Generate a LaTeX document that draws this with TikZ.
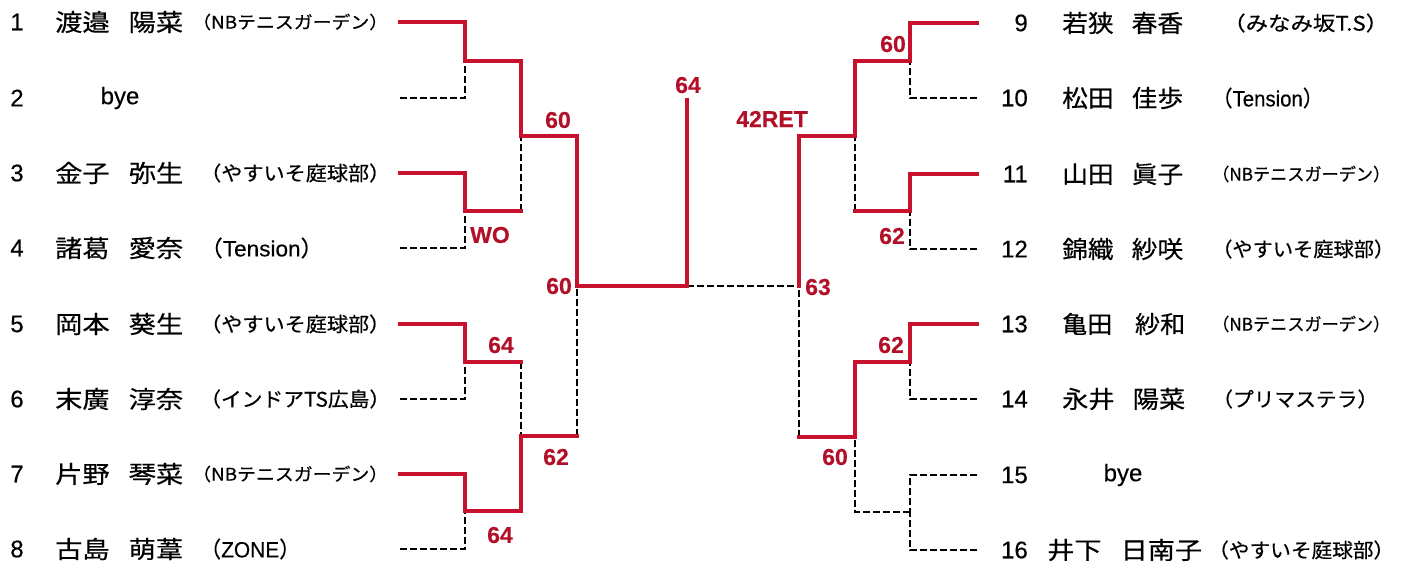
\documentclass[tikz,border=0pt]{standalone}
\usepackage{fontspec}
\usepackage{graphicx}
\setmainfont[FakeBold=0.35]{Liberation Sans}
\newfontfamily\jp[FakeBold=0.45]{Noto Sans CJK JP}
\definecolor{wincol}{RGB}{200,18,45}
\definecolor{scorecol}{RGB}{178,16,40}
\newcommand\fitw[2]{\resizebox{#1}{\height}{#2}}
\tikzset{
  winline/.style={draw=wincol, line width=3.8pt, line cap=rect, line join=miter},
  loseline/.style={draw=black, line width=2pt, dash pattern=on 7pt off 3pt},
  num/.style={font=\fontsize{24}{26}\selectfont, inner sep=0},
  nm/.style={font=\jp\fontsize{24}{26}\selectfont, inner sep=0, anchor=west},
  club/.style={font=\jp\fontsize{20}{22}\selectfont, inner sep=0, anchor=west},
  clubs/.style={font=\jp\fontsize{17.5}{19}\selectfont, inner sep=0, anchor=west},
  clubl/.style={font=\fontsize{22}{24}\selectfont, inner sep=0, anchor=west},
  byetxt/.style={font=\fontsize{24}{26}\selectfont, inner sep=0},
  score/.style={font=\bfseries\fontsize{23}{25}\selectfont, text=scorecol, inner sep=0}
}
\begin{document}
\begin{tikzpicture}[x=1pt,y=-1pt]
\useasboundingbox (0,0) rectangle (1412,564);
% ---------- coordinates: left half
\coordinate (s1) at (400,22);  \coordinate (s2) at (400,98);
\coordinate (s3) at (400,173); \coordinate (s4) at (400,248);
\coordinate (s5) at (400,324); \coordinate (s6) at (400,399);
\coordinate (s7) at (400,474); \coordinate (s8) at (400,549);
\coordinate (m1) at (465,61);  \coordinate (m2) at (465,211);
\coordinate (m3) at (465,362); \coordinate (m4) at (465,511);
\coordinate (q1) at (521,136); \coordinate (q2) at (521,436);
\coordinate (sf) at (577,286);
\coordinate (fin) at (687,286); \coordinate (champ) at (687,100);
% ---------- coordinates: right half
\coordinate (t9) at (977,23);   \coordinate (t10) at (977,98);
\coordinate (t11) at (977,174); \coordinate (t12) at (977,249);
\coordinate (t13) at (977,324); \coordinate (t14) at (977,399);
\coordinate (t15) at (977,475); \coordinate (t16) at (977,550);
\coordinate (n1) at (910,61);  \coordinate (n2) at (910,211);
\coordinate (n3) at (910,362); \coordinate (n4) at (910,512);
\coordinate (u1) at (855,136); \coordinate (u2) at (855,437);
\coordinate (sr) at (799,286);
% ---------- losing (dashed) lines
\draw[loseline] (s2) -| (m1);
\draw[loseline] (m2 -| q1) -- (q1);
\draw[loseline] (s4) -| (m2);
\draw[loseline] (m3 -| q2) -- (q2);
\draw[loseline] (s6) -| (m3);
\draw[loseline] (q2 -| sf) -- (sf);
\draw[loseline] (s8) -| (m4);
\draw[loseline] (fin) -- (sr);
\draw[loseline] (t10) -| (n1);
\draw[loseline] (n2 -| u1) -- (u1);
\draw[loseline] (t12) -| (n2);
\draw[loseline] (u2 -| sr) -- (sr);
\draw[loseline] (t14) -| (n3);
\draw[loseline] (t15) -| (n4);
\draw[loseline] (t16) -| (n4);
\draw[loseline] (n4) -| (u2);
% ---------- winning (red) lines
\draw[winline] (s1) -| (m1) -| (q1) -| (sf) -- (fin) -- (champ);
\draw[winline] (s3) -| (m2) -- (m2 -| q1);
\draw[winline] (s5) -| (m3) -- (m3 -| q2);
\draw[winline] (s7) -| (m4) -| (q2) -- (q2 -| sf);
\draw[winline] (t9) -| (n1) -| (u1) -| (sr);
\draw[winline] (t11) -| (n2) -- (n2 -| u1);
\draw[winline] (t13) -| (n3) -| (u2) -- (u2 -| sr);
% ---------- scores
\node[score] (sc1) at (688,85) {64};
\node[score] (sc2) at (558,120) {60};
\node[score] (sc3) at (490,235) {WO};
\node[score] (sc4) at (559,286) {60};
\node[score] (sc5) at (501,345) {64};
\node[score] (sc6) at (556,457) {62};
\node[score] (sc7) at (500,535) {64};
\node[score] (sc8) at (772,119) {42RET};
\node[score] (sc9) at (893,44) {60};
\node[score] (sc10) at (892,236) {62};
\node[score] (sc11) at (818,287) {63};
\node[score] (sc12) at (891,345) {62};
\node[score] (sc13) at (835,457) {60};
% ---------- left players
\node[num] (no1) at (17,22) {1};
\node[num] (no2) at (17,98) {2};
\node[num] (no3) at (17,173) {3};
\node[num] (no4) at (17,248) {4};
\node[num] (no5) at (17,324) {5};
\node[num] (no6) at (17,399) {6};
\node[num] (no7) at (17,474) {7};
\node[num] (no8) at (17,549) {8};
\node[nm] (na1) at (55,22) {\fitw{128pt}{渡邉\hspace{0.7em}陽菜}};
\node[byetxt] (na2) at (120,98) {bye};
\node[nm] (na3) at (55,173) {\fitw{128pt}{金子\hspace{0.7em}弥生}};
\node[nm] (na4) at (55,248) {\fitw{128pt}{諸葛\hspace{0.7em}愛奈}};
\node[nm] (na5) at (55,324) {\fitw{128pt}{岡本\hspace{0.7em}葵生}};
\node[nm] (na6) at (55,399) {\fitw{128pt}{末廣\hspace{0.7em}淳奈}};
\node[nm] (na7) at (55,474) {\fitw{128pt}{片野\hspace{0.7em}琴菜}};
\node[nm] (na8) at (55,549) {\fitw{128pt}{古島\hspace{0.7em}萌葦}};
\node[clubs] (cl1) at (192,22) {\fitw{196pt}{（NBテニスガーデン）}};
\node[club] (cl3) at (200,173) {\fitw{190pt}{（やすいそ庭球部）}};
\node[clubl] (cl4) at (200,248) {\fitw{123pt}{{\jp （}Tension{\jp ）}}};
\node[club] (cl5) at (200,324) {\fitw{190pt}{（やすいそ庭球部）}};
\node[club] (cl6) at (200,399) {\fitw{190pt}{（インドアTS広島）}};
\node[clubs] (cl7) at (192,474) {\fitw{196pt}{（NBテニスガーデン）}};
\node[clubl] (cl8) at (200,549) {\fitw{100pt}{{\jp （}ZONE{\jp ）}}};
% ---------- right players
\node[num, anchor=east] (no9) at (1028,23) {9};
\node[num, anchor=east] (no10) at (1028,98) {10};
\node[num, anchor=east] (no11) at (1028,174) {11};
\node[num, anchor=east] (no12) at (1028,249) {12};
\node[num, anchor=east] (no13) at (1028,324) {13};
\node[num, anchor=east] (no14) at (1028,399) {14};
\node[num, anchor=east] (no15) at (1028,475) {15};
\node[num, anchor=east] (no16) at (1028,550) {16};
\node[nm] (na9) at (1062,23) {\fitw{121pt}{若狭\hspace{0.7em}春香}};
\node[nm] (na10) at (1062,98) {\fitw{121pt}{松田\hspace{0.7em}佳歩}};
\node[nm] (na11) at (1062,174) {\fitw{121pt}{山田\hspace{0.7em}眞子}};
\node[nm] (na12) at (1062,249) {\fitw{121pt}{錦織\hspace{0.7em}紗咲}};
\node[nm] (na13) at (1062,324) {\fitw{123pt}{亀田\hspace{0.9em}紗和}};
\node[nm] (na14) at (1062,399) {\fitw{123pt}{永井\hspace{0.7em}陽菜}};
\node[byetxt] (na15) at (1123,475) {bye};
\node[nm] (na16) at (1047,550) {\fitw{155pt}{井下\hspace{0.7em}日南子}};
\node[club] (cl9) at (1223,23) {\fitw{165pt}{（みなみ坂T.S）}};
\node[clubl] (cl10) at (1212,98) {\fitw{111pt}{{\jp （}Tension{\jp ）}}};
\node[clubs] (cl11) at (1212,174) {\fitw{178pt}{（NBテニスガーデン）}};
\node[club] (cl12) at (1212,249) {\fitw{182pt}{（やすいそ庭球部）}};
\node[clubs] (cl13) at (1212,324) {\fitw{178pt}{（NBテニスガーデン）}};
\node[club] (cl14) at (1212,399) {\fitw{166pt}{（プリマステラ）}};
\node[club] (cl16) at (1208,550) {\fitw{186pt}{（やすいそ庭球部）}};
\end{tikzpicture}
\end{document}
